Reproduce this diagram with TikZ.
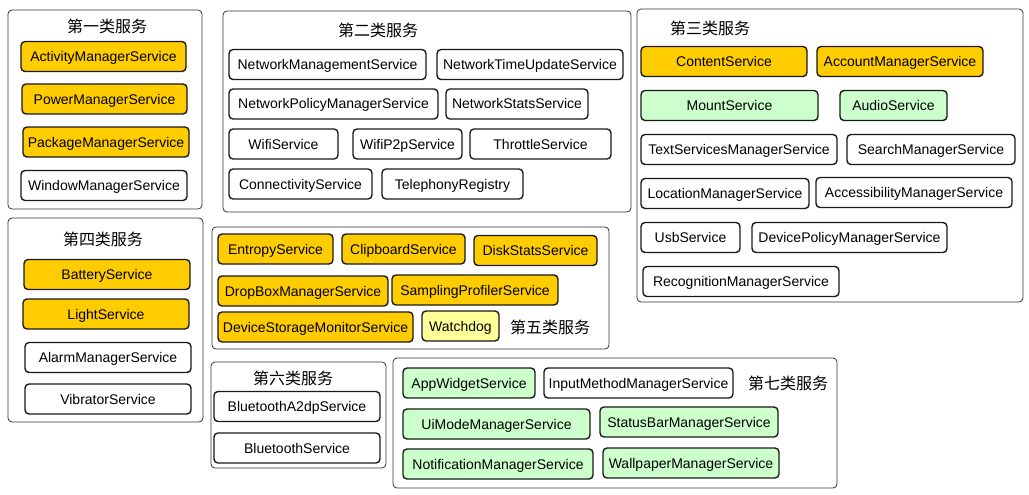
\documentclass[tikz,border=0pt]{standalone}
\usepackage{fontspec}
\setmainfont{Liberation Sans}
\newfontfamily\cjk{Noto Sans CJK SC}
\usepackage{tikz}

\definecolor{gold}{HTML}{FFCC00}
\definecolor{mint}{HTML}{CCFFCC}
\definecolor{paleyellow}{HTML}{FFFF99}

\tikzset{
  svc/.style={draw=black!90, line width=1.4pt, rounded corners=4pt, fill=white,
    inner sep=0pt, minimum height=30pt, text height=10pt, text depth=0pt,
    font=\fontsize{14}{16}\selectfont},
  grp/.style={draw=black!80, line width=0.8pt, rounded corners=4pt},
  grptitle/.style={font=\cjk\fontsize{16}{18}\selectfont, inner sep=0pt}
}

\begin{document}
\begin{tikzpicture}[x=1pt, y=-1pt]
  \useasboundingbox (0,0) rectangle (1029,495);

  % Group 1
  \draw[grp] (8,10) rectangle (202,209);
  \node[grptitle] (t1) at (107,26) {第一类服务};
  \node[svc, fill=gold, minimum width=165pt] (ams) at (103.5,56.5) {ActivityManagerService};
  \node[svc, fill=gold, minimum width=165pt] (pwr) at (104.5,99) {PowerManagerService};
  \node[svc, fill=gold, minimum width=166pt] (pkg) at (106,142) {PackageManagerService};
  \node[svc, minimum width=166pt] (wms) at (104,185.5) {WindowManagerService};

  % Group 2
  \draw[grp] (223,11) rectangle (631,212);
  \node[grptitle] (t2) at (378,30) {第二类服务};
  \node[svc, minimum width=197pt] (netmgmt) at (327.5,64.5) {NetworkManagementService};
  \node[svc, minimum width=186pt] (nettime) at (530,64.5) {NetworkTimeUpdateService};
  \node[svc, minimum width=209pt] (netpol) at (333.5,104) {NetworkPolicyManagerService};
  \node[svc, minimum width=142pt] (netstat) at (517,104) {NetworkStatsService};
  \node[svc, minimum width=109pt] (wifi) at (283.5,144) {WifiService};
  \node[svc, minimum width=109pt] (p2p) at (407.5,144) {WifiP2pService};
  \node[svc, minimum width=141pt] (thr) at (540.5,144) {ThrottleService};
  \node[svc, minimum width=143pt] (conn) at (300.5,184) {ConnectivityService};
  \node[svc, minimum width=141pt] (tel) at (452.5,184) {TelephonyRegistry};

  % Group 3
  \draw[grp] (637,9) rectangle (1023,302);
  \node[grptitle] (t3) at (710,28) {第三类服务};
  \node[svc, fill=gold, minimum width=166pt] (cont) at (724,61.5) {ContentService};
  \node[svc, fill=gold, minimum width=166pt] (acct) at (900,61.5) {AccountManagerService};
  \node[svc, fill=mint, minimum width=177pt] (mnt) at (729.5,105.5) {MountService};
  \node[svc, fill=mint, minimum width=107pt] (aud) at (893.5,105.5) {AudioService};
  \node[svc, minimum width=196pt] (txt) at (739,149.5) {TextServicesManagerService};
  \node[svc, minimum width=168pt] (srch) at (931,149.5) {SearchManagerService};
  \node[svc, minimum width=168pt] (loc) at (725,193.5) {LocationManagerService};
  \node[svc, minimum width=196pt] (acc) at (914,192.5) {AccessibilityManagerService};
  \node[svc, minimum width=99pt] (usb) at (690.5,237.5) {UsbService};
  \node[svc, minimum width=195pt] (dpm) at (849.5,237.5) {DevicePolicyManagerService};
  \node[svc, minimum width=196pt] (rec) at (741,281.5) {RecognitionManagerService};

  % Group 4
  \draw[grp] (8,218) rectangle (203,422);
  \node[grptitle] (t4) at (103,239) {第四类服务};
  \node[svc, fill=gold, minimum width=166pt] (bat) at (107,274.5) {BatteryService};
  \node[svc, fill=gold, minimum width=166pt] (light) at (106,314) {LightService};
  \node[svc, minimum width=166pt] (alarm) at (108,357.5) {AlarmManagerService};
  \node[svc, minimum width=166pt] (vib) at (108,399) {VibratorService};

  % Group 5
  \draw[grp] (212,227) rectangle (609,349);
  \node[grptitle] (t5) at (550,327) {第五类服务};
  \node[svc, fill=gold, minimum width=115pt] (ent) at (275.5,249) {EntropyService};
  \node[svc, fill=gold, minimum width=123pt] (clip) at (403.5,249) {ClipboardService};
  \node[svc, fill=gold, minimum width=123pt] (disk) at (535.5,250.5) {DiskStatsService};
  \node[svc, fill=gold, minimum width=170pt] (drop) at (303,291) {DropBoxManagerService};
  \node[svc, fill=gold, minimum width=166pt] (samp) at (475,290) {SamplingProfilerService};
  \node[svc, fill=gold, minimum width=195pt] (dsm) at (315.5,327) {DeviceStorageMonitorService};
  \node[svc, fill=paleyellow, minimum width=77pt] (wd) at (460.5,326) {Watchdog};

  % Group 6
  \draw[grp] (211,362) rectangle (386,468);
  \node[grptitle] (t6) at (293,378) {第六类服务};
  \node[svc, minimum width=166pt] (a2dp) at (297,406.5) {BluetoothA2dpService};
  \node[svc, minimum width=166pt] (bt) at (297,448) {BluetoothService};

  % Group 7
  \draw[grp] (393,358) rectangle (837,488);
  \node[grptitle] (t7) at (788,383) {第七类服务};
  \node[svc, fill=mint, minimum width=132pt] (appw) at (469,383) {AppWidgetService};
  \node[svc, minimum width=189pt] (imm) at (638.5,383) {InputMethodManagerService};
  \node[svc, fill=mint, minimum width=187pt] (ui) at (496.5,424) {UiModeManagerService};
  \node[svc, fill=mint, minimum width=178pt] (sbar) at (689,422) {StatusBarManagerService};
  \node[svc, fill=mint, minimum width=190pt] (notif) at (498,464) {NotificationManagerService};
  \node[svc, fill=mint, minimum width=176pt] (wall) at (691,463) {WallpaperManagerService};
\end{tikzpicture}
\end{document}
